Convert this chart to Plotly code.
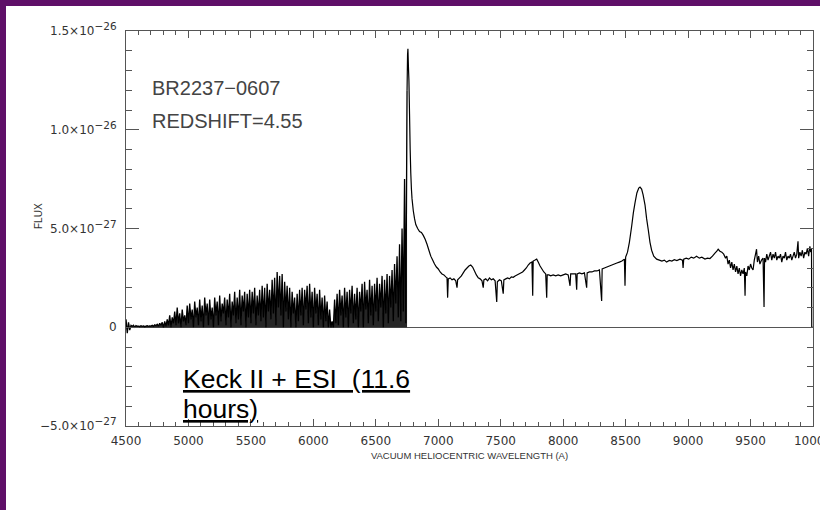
import plotly.graph_objects as go

# ---------------- data (flux in units of 1e-27) ----------------
blue_start = 4500      # first wavelength of the evenly sampled blue part (A)
blue_step = 10         # sampling step (A)
blue_flux = [
    # 4500-4790
    0.4, -0.3, 0.25, -0.15, 0.1, 0.05, 0.1, 0.0, 0.08, 0.05,
    0.06, 0.04, 0.08, 0.05, 0.07, 0.03, 0.06, 0.08, 0.05, 0.07,
    0.06, 0.1, 0.05, 0.12, 0.08, 0.15, 0.06, 0.2, 0.1, 0.25,
    # 4800-6690 (Lyman alpha forest)
    0.0, 0.3, 0.05, 0.4, 0.1, 0.6, 0.0, 0.5, 0.2, 0.8,
    0.1, 1.0, 0.2, 0.7, 0.0, 0.9, 0.3, 0.6, 0.1, 1.1,
    0.2, 1.2, 0.4, 0.9, 0.0, 1.3, 0.5, 1.0, 0.1, 1.4,
    0.3, 1.1, 0.0, 1.5, 0.6, 1.2, 0.1, 1.4, 0.4, 1.0,
    0.0, 1.5, 0.6, 1.3, 0.1, 1.6, 0.3, 1.2, 0.7, 1.5,
    0.1, 1.4, 0.5, 1.7, 0.0, 1.3, 0.6, 1.8, 0.2, 1.5,
    0.4, 1.9, 0.1, 1.6, 0.8, 1.8, 0.0, 1.7, 0.5, 1.9,
    0.2, 1.8, 0.7, 2.0, 0.1, 1.6, 0.6, 1.9, 0.3, 2.1,
    0.5, 2.0, 0.0, 2.2, 0.8, 1.9, 0.4, 2.4, 0.7, 2.5,
    0.1, 2.8, 1.0, 2.6, 0.6, 2.7, 0.0, 2.3, 0.8, 2.1,
    0.4, 2.0, 0.0, 1.8, 0.7, 1.5, 0.0, 1.7, 0.3, 1.9,
    0.6, 2.0, 0.1, 1.9, 0.9, 2.1, 0.2, 2.2, 0.5, 1.8,
    0.0, 2.0, 0.7, 1.7, 0.1, 1.9, 0.4, 1.5, 0.0, 1.6,
    0.3, 1.3, 0.0, 0.9, 0.0, 0.3, 0.0, 1.4, 0.2, 1.7,
    0.1, 1.9, 0.6, 1.6, 0.0, 2.0, 0.5, 1.8, 0.0, 1.9,
    0.7, 2.1, 0.2, 1.7, 0.4, 2.0, 0.0, 1.8, 0.8, 2.2,
    0.0, 2.3, 0.9, 1.9, 0.2, 2.4, 0.6, 2.1, 0.1, 2.2,
    0.8, 2.5, 0.3, 2.2, 1.0, 2.6, 0.0, 2.4, 0.7, 2.7,
    0.2, 2.6, 1.0, 2.9, 0.3, 3.2, 1.2, 3.6, 0.5, 4.2,
    # 6700-6740
    0.3, 5.0, 0.8, 7.5, 0.2,
]

red_wave = [
    6750, 6754, 6757, 6761, 6765, 6770, 6775, 6780, 6785, 6790,
    6800, 6810, 6820, 6835, 6850, 6865, 6880, 6895, 6910, 6925,
    6940, 6955, 6970, 6985, 7000, 7015, 7030, 7045, 7060, 7070,
    7075, 7080, 7095, 7110, 7125, 7140, 7150, 7155, 7170, 7185,
    7200, 7215, 7230, 7245, 7260, 7275, 7290, 7305, 7320, 7335,
    7350, 7360, 7365, 7380, 7395, 7410, 7425, 7440, 7455, 7468,
    7473, 7490, 7505, 7520, 7525, 7540, 7555, 7570, 7585, 7600,
    7615, 7630, 7645, 7660, 7675, 7690, 7705, 7720, 7735, 7750,
    7756, 7760, 7775, 7788, 7800, 7815, 7830, 7845, 7860, 7868,
    7872, 7885, 7900, 7920, 7940, 7960, 7980, 8000, 8020, 8040,
    8055, 8060, 8080, 8100, 8108, 8112, 8130, 8150, 8170, 8188,
    8192, 8210, 8230, 8250, 8270, 8290, 8308, 8312, 8330, 8350,
    8370, 8390, 8410, 8430, 8450, 8470, 8490, 8495, 8500, 8515,
    8530, 8548, 8562, 8575, 8590, 8605, 8615, 8628, 8640, 8655,
    8668, 8682, 8695, 8708, 8725, 8748, 8770, 8790, 8810, 8828,
    8850, 8870, 8890, 8910, 8935, 8955, 8960, 8965, 8985, 9005,
    9025, 9045, 9068, 9090, 9110, 9135, 9155, 9175, 9195, 9215,
    9230, 9241, 9255, 9270, 9285, 9300, 9310, 9320, 9330, 9340,
    9350, 9360, 9370, 9380, 9390, 9400, 9410, 9420, 9430, 9440,
    9450, 9456, 9460, 9470, 9480, 9490, 9500, 9510, 9520, 9530,
    9540, 9548, 9555, 9565, 9575, 9588, 9600, 9608, 9612, 9620,
    9630, 9640, 9650, 9660, 9670, 9680, 9690, 9700, 9710, 9720,
    9730, 9740, 9750, 9760, 9770, 9780, 9790, 9800, 9810, 9820,
    9830, 9840, 9850, 9860, 9870, 9880, 9885, 9895, 9905, 9915,
    9925, 9935, 9945, 9955, 9965, 9975, 9982, 9988, 9990, 10000,
]
red_flux = [
    12.0, 13.8, 14.1, 13.2, 12.5, 10.8, 9.0, 7.8, 7.0, 6.5,
    5.9, 5.5, 5.2, 5.0, 4.85, 4.8, 4.65, 4.45, 4.2, 3.9,
    3.6, 3.4, 3.2, 3.05, 2.95, 2.8, 2.7, 2.65, 2.55, 2.5,
    1.5, 2.45, 2.5, 2.4, 2.45, 2.35, 2.0, 2.4, 2.5, 2.6,
    2.75, 2.9, 3.0, 3.1, 3.15, 3.05, 2.85, 2.65, 2.5, 2.45,
    2.35, 2.0, 2.4, 2.45, 2.35, 2.5, 2.4, 2.45, 2.35, 1.28,
    2.3, 2.4, 2.35, 1.7, 2.4, 2.45, 2.5, 2.45, 2.55, 2.53,
    2.6, 2.65, 2.7, 2.75, 2.8, 2.9, 3.0, 3.15, 3.25, 3.3,
    1.6, 3.35, 3.4, 3.45, 3.3, 3.1, 2.95, 2.8, 2.7, 1.5,
    2.65, 2.65, 2.6, 2.65, 2.6, 2.65, 2.6, 2.65, 2.7, 2.65,
    2.1, 2.7, 2.7, 2.7, 1.9, 2.7, 2.75, 2.7, 2.75, 2.0,
    2.75, 2.8, 2.8, 2.85, 2.85, 2.9, 1.33, 2.95, 3.0, 3.05,
    3.1, 3.15, 3.2, 3.25, 3.3, 3.35, 3.45, 2.1, 3.55, 3.8,
    4.3, 5.1, 5.8, 6.3, 6.8, 7.05, 7.1, 7.0, 6.7, 6.2,
    5.5, 4.9, 4.3, 3.9, 3.6, 3.45, 3.4, 3.35, 3.4, 3.3,
    3.38, 3.35, 3.42, 3.38, 3.45, 3.4, 3.0, 3.45, 3.5, 3.45,
    3.55, 3.5, 3.6, 3.5, 3.55, 3.45, 3.5, 3.48, 3.6, 3.75,
    3.85, 3.95, 3.85, 3.8, 3.7, 3.5, 3.6, 3.2, 3.4, 3.0,
    3.3, 2.9, 3.2, 2.8, 3.1, 2.7, 3.0, 2.6, 2.9, 2.7,
    3.0, 1.6, 2.8, 2.6, 3.1, 2.9, 3.2, 3.0, 2.9, 3.4,
    3.7, 3.95, 3.3, 3.6, 3.2, 3.4, 3.5, 1.03, 3.5, 3.3,
    3.7, 3.4, 3.6, 3.8, 3.4, 3.7, 3.5, 3.8, 3.4, 3.6,
    3.5, 3.7, 3.3, 3.6, 3.5, 3.8, 3.4, 3.6, 3.5, 3.7,
    3.4, 3.6, 3.8, 3.5, 3.7, 4.35, 3.5, 3.8, 3.6, 3.9,
    3.5, 3.8, 3.7, 4.0, 3.6, 4.1, 3.8, 4.0, 0.0, 0.0,
]

x_tick_vals = [4500, 5000, 5500, 6000, 6500, 7000, 7500, 8000, 8500, 9000, 9500, 10000]
x_tick_text = ["4500", "5000", "5500", "6000", "6500", "7000", "7500", "8000",
               "8500", "9000", "9500", "10000"]
y_tick_vals = [-5, 0, 5, 10, 15]
y_tick_mant = ["\u22125.0", "0", "5.0", "1.0", "1.5"]
y_tick_exp = ["\u221227", "", "\u221227", "\u221226", "\u221226"]

# ---------------- build ----------------
blue_wave = [blue_start + i * blue_step for i in range(len(blue_flux))]
y_tick_text = [m if not e else m + "\u00d710<sup><span style='font-size:10.5px'>" + e + "</span></sup>"
               for m, e in zip(y_tick_mant, y_tick_exp)]

W, H = 820, 510
L, R, T, B = 126, 7, 31, 84
PW, PH = W - L - R, H - T - B


def px(xp):
    return (xp - L) / PW


def py(yp):
    return (H - B - yp) / PH


AX = "#555555"
fig = go.Figure()
# noisy blue side (forest): dense, nearly solid black like the original plot
fig.add_trace(go.Scatter(x=blue_wave + red_wave[:1], y=blue_flux + red_flux[:1],
                         mode="lines", fill="tozeroy", fillcolor="rgba(0,0,0,0.85)",
                         line=dict(color="black", width=1.3, simplify=False),
                         hoverinfo="skip", showlegend=False))
fig.add_trace(go.Scatter(x=red_wave, y=red_flux, mode="lines",
                         line=dict(color="black", width=1.2, simplify=False),
                         hoverinfo="skip", showlegend=False))

fig.update_layout(
    width=W, height=H,
    margin=dict(l=L, r=R, t=T, b=B, autoexpand=False),
    paper_bgcolor="#5f0f68",
    plot_bgcolor="white",
    showlegend=False,
    shapes=[dict(type="rect", xref="paper", yref="paper",
                 x0=px(6), x1=px(W + 2), y0=py(H + 2), y1=py(6),
                 fillcolor="white", line=dict(width=0), layer="below")],
)

fig.update_xaxes(
    range=[4500, 10000], tickmode="array", tickvals=x_tick_vals, ticktext=x_tick_text,
    ticks="inside", ticklen=7, tickwidth=1, tickcolor=AX,
    showline=True, linecolor=AX, linewidth=1, mirror="allticks",
    showgrid=False, zeroline=False, automargin=False,
    tickfont=dict(family="DejaVu Sans", size=12, color="#333333"),
    ticklabelstandoff=4, ticklabeloverflow="allow",
    minor=dict(dtick=100, ticks="inside", ticklen=4, tickcolor=AX, showgrid=False),
    title=dict(text="VACUUM HELIOCENTRIC WAVELENGTH (A)",
               font=dict(family="Liberation Sans", size=9.5, color="#333333"),
               standoff=4),
)
fig.update_yaxes(
    range=[-5, 15], tickmode="array", tickvals=y_tick_vals, ticktext=y_tick_text,
    ticks="inside", ticklen=13, tickwidth=1, tickcolor=AX,
    showline=True, linecolor=AX, linewidth=1, mirror="allticks",
    showgrid=False, zeroline=True, zerolinecolor=AX, zerolinewidth=1, automargin=False,
    tickfont=dict(family="DejaVu Sans", size=12, color="#333333"),
    ticklabelstandoff=6,
    minor=dict(dtick=1, ticks="inside", ticklen=6, tickcolor=AX, showgrid=False),
)

fig.add_annotation(text="FLUX", xref="paper", yref="paper", x=px(38), y=py(216),
                   textangle=-90, showarrow=False, xanchor="center", yanchor="middle",
                   font=dict(family="Liberation Sans", size=10, color="#333333"))
fig.add_annotation(text="BR2237\u22120607", xref="paper", yref="paper", x=px(150), y=py(88),
                   showarrow=False, xanchor="left", yanchor="middle",
                   font=dict(family="Liberation Sans", size=20, color="#444444"))
fig.add_annotation(text="REDSHIFT=4.55", xref="paper", yref="paper", x=px(150), y=py(121),
                   showarrow=False, xanchor="left", yanchor="middle",
                   font=dict(family="Liberation Sans", size=20, color="#444444"))
fig.add_annotation(text="<u>Keck II + ESI\u00a0\u00a0(11.6</u>",
                   xref="paper", yref="paper", x=px(181), y=py(379),
                   showarrow=False, xanchor="left", yanchor="middle", align="left",
                   font=dict(family="Liberation Sans", size=26.5, color="black"))
fig.add_annotation(text="<u>hours)</u>",
                   xref="paper", yref="paper", x=px(181), y=py(409),
                   showarrow=False, xanchor="left", yanchor="middle", align="left",
                   font=dict(family="Liberation Sans", size=26.5, color="black"))

fig.write_html("out.html")
